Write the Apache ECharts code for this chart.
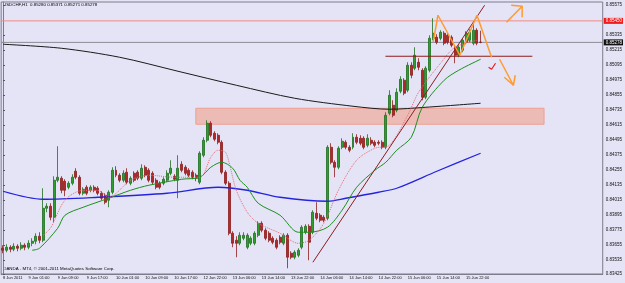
<!DOCTYPE html>
<html>
<head>
<meta charset="utf-8">
<script src="https://cdn.jsdelivr.net/npm/echarts@6/dist/echarts.min.js"></script>
<style>
  html, body { margin: 0; padding: 0; background: #e4e4f6; }
  #main { width: 625px; height: 283px; }
</style>
</head>
<body>
<div id="main"></div>
<script>
// USDCHF H1, 8 Jun 18:00 .. 16 Jun 01:00 (2011), [open, close, low, high]
var ohlc = [
  [0.83631,0.83615,0.83591,0.83655],[0.83615,0.83639,0.83599,0.83663],[0.83639,0.83623,0.83599,0.83655],
  [0.83623,0.83647,0.83607,0.83671],[0.83647,0.83631,0.83607,0.83663],[0.83631,0.83655,0.83615,0.83679],
  [0.83655,0.83639,0.83615,0.83671],[0.83639,0.83671,0.83623,0.83695],[0.83671,0.83687,0.83647,0.83711],
  [0.83687,0.83727,0.83663,0.83751],[0.83727,0.83695,0.83671,0.83759],[0.83695,0.83951,0.83679,0.84111],
  [0.83951,0.83967,0.83919,0.83991],[0.83967,0.83879,0.83855,0.83991],[0.83879,0.84175,0.83839,0.84207],
  [0.84175,0.84199,0.84159,0.84447],[0.84191,0.84095,0.84071,0.84207],[0.84167,0.84095,0.84047,0.84183],
  [0.84119,0.84151,0.84103,0.84167],[0.84151,0.84199,0.84135,0.84223],[0.84247,0.84199,0.84183,0.84271],
  [0.84199,0.84071,0.84055,0.84215],[0.84071,0.84103,0.84055,0.84119],[0.84119,0.84071,0.84055,0.84135],
  [0.84095,0.84119,0.84079,0.84135],[0.84119,0.84095,0.84079,0.84135],[0.84111,0.84071,0.84055,0.84127],
  [0.84071,0.84031,0.84015,0.84087],[0.84055,0.83999,0.83983,0.84071],[0.84015,0.84079,0.83959,0.84095],
  [0.84079,0.84255,0.84063,0.84279],[0.84255,0.84215,0.84199,0.84287],[0.84215,0.84175,0.84159,0.84231],
  [0.84175,0.84231,0.84159,0.84255],[0.84239,0.84159,0.84143,0.84271],[0.84151,0.84191,0.84135,0.84207],
  [0.84231,0.84175,0.84159,0.84247],[0.84239,0.84191,0.84175,0.84255],[0.84191,0.84271,0.84175,0.84303],
  [0.84279,0.84215,0.84199,0.84295],[0.84255,0.84175,0.84159,0.84271],[0.84231,0.84159,0.84143,0.84247],
  [0.84175,0.84119,0.84103,0.84191],[0.84151,0.84119,0.84103,0.84167],[0.84151,0.84183,0.84135,0.84199],
  [0.84175,0.84231,0.84159,0.84255],[0.84231,0.84271,0.84215,0.84335],[0.84207,0.84183,0.84167,0.84223],
  [0.84175,0.84271,0.84031,0.84375],[0.84303,0.84255,0.84239,0.84327],[0.84279,0.84231,0.84215,0.84295],
  [0.84255,0.84215,0.84199,0.84271],[0.84239,0.84199,0.84183,0.84255],[0.84215,0.84191,0.84167,0.84231],
  [0.84159,0.84391,0.84143,0.84407],[0.84375,0.84495,0.84359,0.84519],[0.84495,0.84631,0.84479,0.84655],
  [0.84631,0.84535,0.84519,0.84647],[0.84551,0.84503,0.84487,0.84567],[0.84535,0.84479,0.84463,0.84551],
  [0.84479,0.84239,0.84223,0.84495],[0.84239,0.84151,0.84135,0.84255],[0.84151,0.83751,0.83735,0.84167],
  [0.83751,0.83671,0.83639,0.83767],[0.83695,0.83671,0.83559,0.83727],[0.83671,0.83735,0.83655,0.83759],
  [0.83711,0.83735,0.83695,0.83759],[0.83639,0.83735,0.83623,0.83751],[0.83671,0.83711,0.83655,0.83727],
  [0.83671,0.83751,0.83655,0.83767],[0.83735,0.83831,0.83719,0.83847],[0.83831,0.83775,0.83759,0.83847],
  [0.83775,0.83711,0.83695,0.83791],[0.83751,0.83695,0.83679,0.83767],[0.83711,0.83679,0.83663,0.83727],
  [0.83695,0.83639,0.83623,0.83711],[0.83719,0.83679,0.83663,0.83735],[0.83671,0.83735,0.83655,0.83751],
  [0.83735,0.83559,0.83471,0.83751],[0.83591,0.83559,0.83543,0.83607],[0.83559,0.83599,0.83543,0.83615],
  [0.83575,0.83615,0.83559,0.83631],[0.83639,0.83799,0.83623,0.83815],[0.83759,0.83807,0.83743,0.83823],
  [0.83807,0.83679,0.83535,0.83823],[0.83759,0.83919,0.83743,0.83935],[0.83911,0.83871,0.83855,0.83999],
  [0.83895,0.83855,0.83839,0.83911],[0.83879,0.83855,0.83839,0.83895],[0.83871,0.84439,0.83855,0.84455],
  [0.84439,0.84319,0.84303,0.84471],[0.84319,0.84279,0.84199,0.84335],[0.84279,0.84431,0.84263,0.84447],
  [0.84439,0.84487,0.84423,0.84511],[0.84479,0.84439,0.84423,0.84495],[0.84439,0.84415,0.84399,0.84455],
  [0.84439,0.84519,0.84423,0.84551],[0.84519,0.84479,0.84463,0.84543],[0.84511,0.84471,0.84455,0.84535],
  [0.84511,0.84439,0.84423,0.84527],[0.84455,0.84511,0.84439,0.84543],[0.84495,0.84471,0.84455,0.84519],
  [0.84479,0.84455,0.84439,0.84495],[0.84479,0.84471,0.84455,0.84495],[0.84479,0.84439,0.84423,0.84495],
  [0.84439,0.84695,0.84423,0.84719],[0.84711,0.84855,0.84695,0.84895],[0.84775,0.84695,0.84679,0.84815],
  [0.84735,0.84879,0.84719,0.84911],[0.84887,0.84983,0.84871,0.85007],[0.84975,0.84871,0.84855,0.84991],
  [0.84895,0.85095,0.84879,0.85119],[0.85095,0.85015,0.84991,0.85119],[0.85071,0.85175,0.85055,0.85239],
  [0.85119,0.85079,0.85055,0.85151],[0.85055,0.84839,0.84815,0.85071],[0.84839,0.85071,0.84823,0.85087],
  [0.85055,0.85311,0.85039,0.85335],[0.85311,0.85351,0.85295,0.85471],[0.85319,0.85279,0.85263,0.85343],
  [0.85311,0.85359,0.85295,0.85375],[0.85351,0.85271,0.85255,0.85367],[0.85335,0.85279,0.85263,0.85351],
  [0.85319,0.85255,0.85239,0.85335],[0.85239,0.85175,0.85111,0.85255],[0.85175,0.85239,0.85159,0.85255],
  [0.85215,0.85295,0.85199,0.85311],[0.85279,0.85351,0.85263,0.85367],[0.85295,0.85359,0.85279,0.85383],
  [0.85271,0.85375,0.85255,0.85439],[0.85375,0.85271,0.85255,0.85391],[0.85280,0.85278,0.85271,0.85371]
];

// moving averages as [bar, price]
var maBlack = [[0,0.85263],[16,0.85231],[32,0.85159],[48,0.85047],[64,0.84935],[80,0.84831],[96,0.84767],[106,0.84743],[116,0.84759],[131,0.84791]];
var maBlue = [[0,0.84087],[11,0.84023],[26,0.84039],[45,0.84071],[59,0.84119],[67,0.84095],[76,0.84039],[89,0.84007],[94,0.84031],[103,0.84079],[108,0.84111],[119,0.84247],[131,0.84391]];
var maGreen = [[8,0.83615],[10,0.83631],[15,0.83791],[17,0.83895],[22,0.83959],[29,0.84031],[35,0.84095],[40,0.84135],[49,0.84183],[54,0.84199],[57,0.84279],[60,0.84319],[63,0.84271],[65,0.84175],[67,0.84119],[70,0.83991],[76,0.83895],[81,0.83759],[84,0.83759],[89,0.83799],[93,0.83935],[97,0.84119],[102,0.84255],[105,0.84319],[108,0.84415],[112,0.84519],[115,0.84759],[121,0.84975],[125,0.85055],[131,0.85143]];
var maRed = [[11,0.83735],[13,0.83791],[17,0.84015],[22,0.84095],[26,0.84095],[29,0.84039],[35,0.84175],[40,0.84215],[47,0.84199],[54,0.84199],[57,0.84359],[59,0.84415],[61,0.84399],[62,0.84319],[64,0.84095],[67,0.83919],[70,0.83831],[76,0.83751],[81,0.83671],[84,0.83695],[88,0.83831],[92,0.84095],[97,0.84335],[102,0.84431],[106,0.84455],[111,0.84695],[114,0.84879],[120,0.85111],[124,0.85239],[130,0.85295]];

// drawn objects
var trendLine = [[85.0,0.83519],[132.1,0.85575]];
var supportLine = [[104.9,0.85167],[145.2,0.85167]];
var zone = [[52.9,0.84751],[148.4,0.84623]];
var zigzag = [[118,0.85279],[119.3,0.85495],[125.3,0.85175],[130,0.85495],[134,0.85159]];
var arrowUp = [[138.1,0.85439],[142.4,0.85567]];
var arrowUpHead = [[139.4,0.85575],[142.4,0.85567],[142.4,0.85479]];
var arrowDown = [[136.2,0.85143],[140.0,0.84935]];
var arrowDownHead = [[137.5,0.84999],[140.0,0.84935],[140.5,0.85015]];
var tick = [[133.2,0.85079],[134.0,0.85063],[135.1,0.85111]];

var resistPrice = 0.85450;
var bidPrice = 0.85278;
var priceTicks = [0.85575,0.85335,0.85215,0.85095,0.84975,0.84855,0.84735,0.84615,0.84495,0.84375,0.84255,0.84135,0.84015,0.83895,0.83775,0.83655,0.83535,0.83425];
var timeLabels = ['8 Jun 2011','9 Jun 01:00','9 Jun 09:00','9 Jun 17:00','10 Jun 01:00','10 Jun 09:00','10 Jun 17:00','12 Jun 22:00','13 Jun 06:00','13 Jun 14:00','13 Jun 22:00','14 Jun 06:00','14 Jun 14:00','14 Jun 22:00','15 Jun 06:00','15 Jun 14:00','15 Jun 22:00'];
var slotCount = 165;

var font = 'Liberation Sans';
var slots = [];
for (var i = 0; i < slotCount; i++) slots.push(i);

function labelAt(i) {
  return i === 0 || (i >= 7 && (i - 7) % 8 === 0 && (i - 7) / 8 + 1 < timeLabels.length);
}

function poly(data, color, width, z) {
  return {
    type: 'line', xAxisIndex: 1, data: data, showSymbol: false, silent: true, z: z || 6,
    lineStyle: { color: color, width: width }
  };
}

// horizontal price line across the whole plot, with the price box on the axis
function priceLine(p, lineColor, boxColor) {
  var s = poly([[-0.5, p], [slotCount - 0.5, p]], lineColor, 1, 2);
  s.endLabel = {
    show: true, formatter: p.toFixed(5), color: '#fff', backgroundColor: boxColor,
    fontSize: 4.5, padding: [1, 1, 0, 2], distance: 1, fontFamily: font
  };
  return s;
}

var chart = echarts.init(document.getElementById('main'));
chart.setOption({
  animation: false,
  backgroundColor: '#e4e4f6',
  grid: { left: 1, right: 18, top: 2, height: 272, show: true, borderColor: '#7c7c8c', borderWidth: 1 },
  xAxis: [{
    type: 'category', data: slots, boundaryGap: true,
    axisLine: { lineStyle: { color: '#7c7c8c' } },
    axisTick: { alignWithLabel: true, interval: labelAt, length: 3, lineStyle: { color: '#555' } },
    axisLabel: {
      interval: labelAt, align: 'left', margin: 2, fontSize: 4, color: '#111', fontFamily: font,
      formatter: function (v, i) { return i === 0 ? timeLabels[0] : timeLabels[(i - 7) / 8 + 1]; }
    },
    splitLine: { show: false }
  }, {
    type: 'value', min: -0.5, max: slotCount - 0.5, show: false
  }],
  yAxis: {
    type: 'value', position: 'right', min: 0.83425, max: 0.85601, scale: true,
    axisLine: { show: true, lineStyle: { color: '#7c7c8c' } },
    axisTick: { show: true, customValues: priceTicks, length: 2, lineStyle: { color: '#555' } },
    axisLabel: { customValues: priceTicks, margin: 3, fontSize: 4.5, color: '#111', fontFamily: font,
      formatter: function (v) { return v.toFixed(5); } },
    splitLine: { show: false }
  },
  graphic: [
    { type: 'text', left: 3, top: 3, style: { text: 'USDCHF,H1  0.85280 0.85371 0.85271 0.85278', fontSize: 4.4, fill: '#000', fontFamily: font } },
    { type: 'text', left: 3, top: 267, style: { text: 'OANDA - MT4, \u00a9 2001-2011 MetaQuotes Software Corp.', fontSize: 4.4, fill: '#000', fontFamily: font } }
  ],
  series: [
    {
      type: 'line', xAxisIndex: 1, data: zone, showSymbol: false, silent: true, z: 1,
      lineStyle: { opacity: 0 },
      markArea: {
        silent: true,
        itemStyle: { color: 'rgba(242,160,140,0.6)', borderColor: '#eea090', borderWidth: 1 },
        data: [[{ coord: zone[0] }, { coord: zone[1] }]]
      }
    },
    priceLine(resistPrice, '#f08a80', '#ee1c1c'),
    priceLine(bidPrice, '#8a8a96', '#111'),
    {
      type: 'candlestick', data: ohlc, barWidth: '68%', z: 3,
      itemStyle: { color: '#2f9e2f', color0: '#b02a2a', borderColor: '#1d6e1d', borderColor0: '#8e1c1c', borderWidth: 0.8 }
    },
    Object.assign(poly(maBlack, '#1a1a1a', 1, 4), { smooth: 0.3 }),
    Object.assign(poly(maBlue, '#2424e0', 1.3, 4), { smooth: 0.3 }),
    Object.assign(poly(maGreen, '#1d8f1d', 1, 4), { smooth: 0.3 }),
    Object.assign(poly(maRed, '#ea6a72', 1, 4), { smooth: 0.3, lineStyle: { color: '#ea6a72', width: 1, type: 'dotted' } }),
    poly(trendLine, '#8e1c1c', 1),
    poly(supportLine, '#8e1c1c', 1),
    poly(zigzag, '#ff9a30', 1.5),
    poly(arrowUp, '#ff9a30', 1.5),
    poly(arrowUpHead, '#ff9a30', 1.5),
    poly(arrowDown, '#ff9a30', 1.5),
    poly(arrowDownHead, '#ff9a30', 1.5),
    poly(tick, '#e81c1c', 1.2)
  ]
});
</script>
</body>
</html>
